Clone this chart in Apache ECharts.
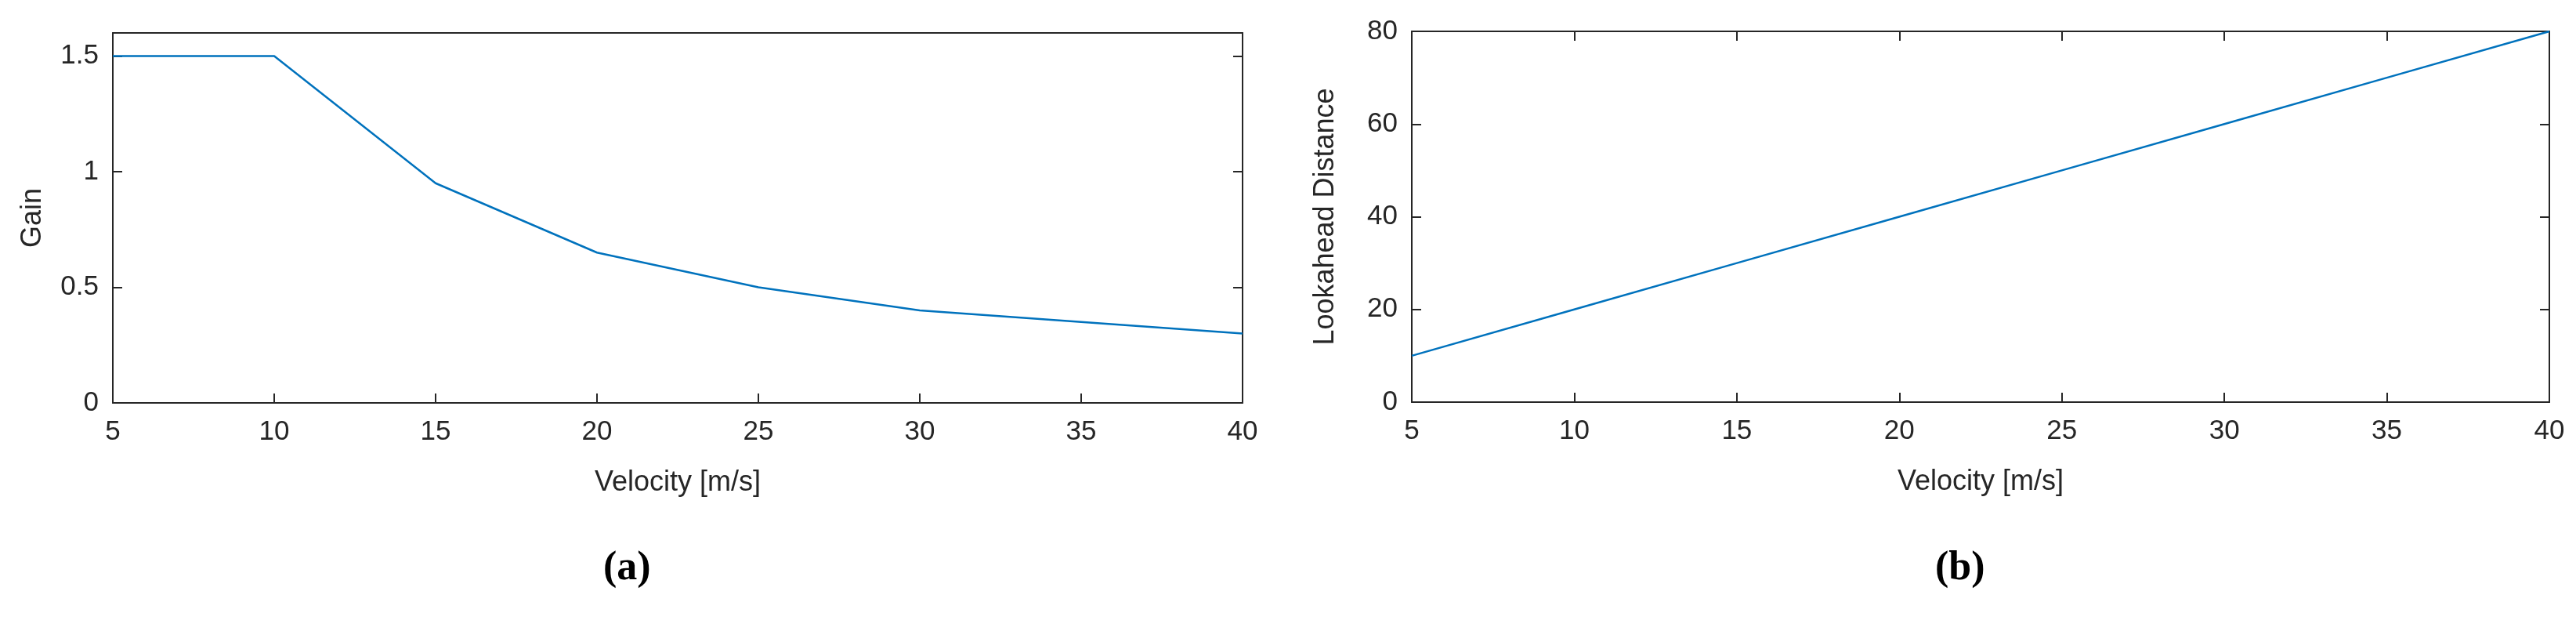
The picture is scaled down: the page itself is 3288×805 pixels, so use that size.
<!DOCTYPE html>
<html>
<head>
<meta charset="utf-8">
<script src="https://cdn.jsdelivr.net/npm/echarts@6/dist/echarts.min.js"></script>
<style>
  html, body { margin: 0; padding: 0; background: #fff; }
  #chart { width: 3288px; height: 805px; }
</style>
</head>
<body>
<div id="chart"></div>
<script>
// Data
const velocity = [5, 10, 15, 20, 25, 30, 35, 40]
const gain = [1.5, 1.5, 0.95, 0.65, 0.5, 0.4, 0.35, 0.3]
const lookahead = [10, 20, 30, 40, 50, 60, 70, 80]

const textColor = "#262626"
const lineColor = "#0072BD"
const font = "Liberation Sans"

const chart = echarts.init(document.getElementById("chart"))

function xAx(gridIndex, top) {
  return {
    type: "value", gridIndex: gridIndex, min: 5, max: 40, interval: 5,
    position: top ? "top" : "bottom",
    name: top ? "" : "Velocity [m/s]", nameLocation: "middle", nameGap: 84,
    nameTextStyle: { color: textColor, fontSize: 36, fontFamily: font },
    axisLine: { show: true, onZero: false, lineStyle: { color: textColor, width: 2 } },
    axisTick: { show: top ? gridIndex === 1 : true, inside: true, length: 12, lineStyle: { color: textColor, width: 2 } },
    axisLabel: { show: !top, color: textColor, fontSize: 35, fontFamily: font, margin: 20 },
    splitLine: { show: false },
  }
}

function yAx(gridIndex, right, max, interval, name) {
  return {
    type: "value", gridIndex: gridIndex, min: 0, max: max, interval: interval,
    position: right ? "right" : "left",
    name: right ? "" : name, nameLocation: "middle", nameGap: gridIndex === 0 ? 84 : 92,
    nameTextStyle: { color: textColor, fontSize: 36, fontFamily: font },
    axisLine: { show: true, onZero: false, lineStyle: { color: textColor, width: 2 } },
    axisTick: { show: true, inside: true, length: 12, lineStyle: { color: textColor, width: 2 } },
    axisLabel: {
      show: !right, color: textColor, fontSize: 35, fontFamily: font, margin: 18,
      showMinLabel: true,
      showMaxLabel: gridIndex === 1,
    },
    splitLine: { show: false },
  }
}

chart.setOption({
  animation: false,
  grid: [
    { left: 144, width: 1442, top: 42, height: 472 },
    { left: 1802, width: 1452, top: 40, height: 473 },
  ],
  xAxis: [xAx(0, false), xAx(0, true), xAx(1, false), xAx(1, true)],
  yAxis: [
    yAx(0, false, 1.6, 0.5, "Gain"), yAx(0, true, 1.6, 0.5, ""),
    yAx(1, false, 80, 20, "Lookahead Distance"), yAx(1, true, 80, 20, ""),
  ],
  series: [
    {
      type: "line", xAxisIndex: 0, yAxisIndex: 0, symbol: "none",
      lineStyle: { color: lineColor, width: 2.5 },
      data: velocity.map((v, i) => [v, gain[i]]),
    },
    {
      type: "line", xAxisIndex: 2, yAxisIndex: 2, symbol: "none",
      lineStyle: { color: lineColor, width: 2.5 },
      data: velocity.map((v, i) => [v, lookahead[i]]),
    },
  ],
  graphic: [
    {
      type: "text", left: 770, top: 700,
      style: { text: "(a)", fill: "#000", font: "bold 52px 'Liberation Serif'" },
    },
    {
      type: "text", left: 2470, top: 700,
      style: { text: "(b)", fill: "#000", font: "bold 52px 'Liberation Serif'" },
    },
  ],
})
</script>
</body>
</html>
